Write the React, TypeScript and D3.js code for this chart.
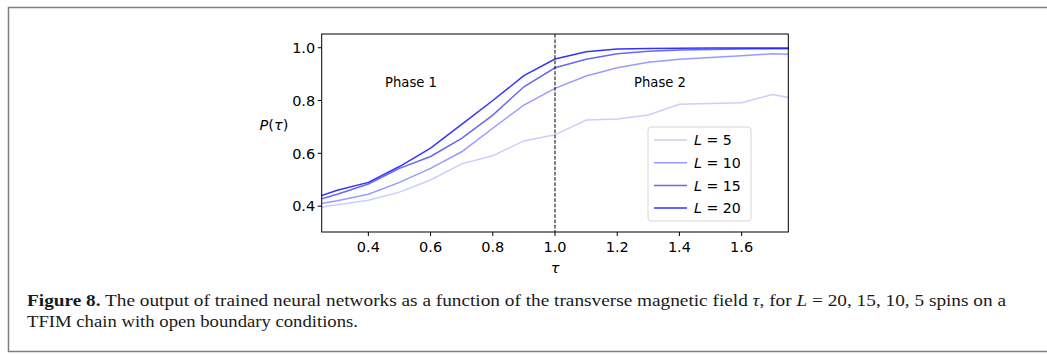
import React from 'react';
import * as d3 from 'd3';

// transverse field values (the first and last points fall outside the x range and get clipped)
const tau = [0.2, 0.3, 0.4, 0.5, 0.6, 0.7, 0.8, 0.9, 1.0, 1.1, 1.2, 1.3, 1.4, 1.5, 1.6, 1.7, 1.8];

const pL5 = [0.387, 0.405, 0.422, 0.453, 0.499, 0.560, 0.591, 0.647, 0.670, 0.726, 0.730, 0.745, 0.786, 0.789, 0.792, 0.823, 0.800];
const pL10 = [0.400, 0.420, 0.445, 0.490, 0.543, 0.606, 0.695, 0.783, 0.846, 0.893, 0.924, 0.945, 0.956, 0.963, 0.970, 0.977, 0.973];
const pL15 = [0.410, 0.445, 0.484, 0.543, 0.588, 0.657, 0.745, 0.852, 0.924, 0.956, 0.977, 0.987, 0.991, 0.993, 0.995, 0.996, 0.997];
const pL20 = [0.420, 0.460, 0.490, 0.550, 0.620, 0.710, 0.800, 0.894, 0.957, 0.985, 0.995, 0.997, 0.998, 0.999, 0.999, 0.999, 0.999];

const sizes = ['5', '10', '15', '20'];
const seriesValues = [pL5, pL10, pL15, pL20];
const alphas = [0.2, 0.4, 0.6, 0.8];

const xTicks = [0.4, 0.6, 0.8, 1.0, 1.2, 1.4, 1.6];
const yTicks = [0.4, 0.6, 0.8, 1.0];

const captionLine1 = 'The output of trained neural networks as a function of the transverse magnetic field ';
const captionLine2 = 'TFIM chain with open boundary conditions.';

const W = 1047;
const H = 354;
const plot = { left: 321.7, right: 788.3, top: 34, bottom: 232 };
const tickFont = '"DejaVu Sans", sans-serif';
const capFont = '"Liberation Serif", serif';

const App: React.FC = () => {
  const x = d3.scaleLinear().domain([0.25, 1.75]).range([plot.left, plot.right]);
  const y = d3.scaleLinear().domain([0.302, 1.052]).range([plot.bottom, plot.top]);

  const line = d3.line<[number, number]>()
    .x(d => x(d[0]))
    .y(d => y(d[1]));

  const legendX = 648;
  const legendY = 127;
  const rowH = 22.7;

  return (
    <svg width={W} height={H} style={{ position: 'absolute', left: 0, top: 0 }}>
      <rect x={0} y={0} width={W} height={H} fill="#fff" />
      {/* figure frame */}
      <path d={`M${W + 5},7.5 H8.5 V351.5 H${W + 5}`} fill="none" stroke="#7f7f7f" strokeWidth={1.5} />

      <defs>
        <clipPath id="plotClip">
          <rect x={plot.left} y={plot.top} width={plot.right - plot.left} height={plot.bottom - plot.top} />
        </clipPath>
      </defs>

      <g clipPath="url(#plotClip)">
        {seriesValues.map((vals, i) => (
          <path
            key={sizes[i]}
            d={line(tau.map((t, j) => [t, vals[j]] as [number, number])) || ''}
            fill="none"
            stroke="blue"
            strokeOpacity={alphas[i]}
            strokeWidth={1.5}
          />
        ))}
      </g>

      {/* critical point */}
      <line x1={x(1.0)} x2={x(1.0)} y1={plot.top} y2={plot.bottom} stroke="#000" strokeWidth={1} strokeDasharray="3.7,1.6" />

      <text x={411} y={87} fontFamily={tickFont} fontSize={13.2} textAnchor="middle" fill="#000">Phase 1</text>
      <text x={660} y={87} fontFamily={tickFont} fontSize={13.2} textAnchor="middle" fill="#000">Phase 2</text>

      {/* axes frame */}
      <rect x={plot.left} y={plot.top} width={plot.right - plot.left} height={plot.bottom - plot.top} fill="none" stroke="#000" strokeWidth={1} />

      {xTicks.map(t => (
        <g key={'x' + t} transform={`translate(${x(t)},${plot.bottom})`}>
          <line y2={4} stroke="#000" strokeWidth={1} />
          <text y={20} textAnchor="middle" fontFamily={tickFont} fontSize={14.5} fill="#000">{t.toFixed(1)}</text>
        </g>
      ))}
      {yTicks.map(t => (
        <g key={'y' + t} transform={`translate(${plot.left},${y(t)})`}>
          <line x2={-4} stroke="#000" strokeWidth={1} />
          <text x={-6.5} dy="0.36em" textAnchor="end" fontFamily={tickFont} fontSize={14.5} fill="#000">{t.toFixed(1)}</text>
        </g>
      ))}

      <text x={555} y={273} textAnchor="middle" fontFamily={tickFont} fontSize={14.5} fontStyle="italic" fill="#000">τ</text>
      <text x={274} y={130} textAnchor="middle" fontFamily={tickFont} fontSize={14.5} fill="#000">
        <tspan fontStyle="italic">P</tspan>(<tspan fontStyle="italic">τ</tspan>)
      </text>

      {/* legend */}
      <rect x={legendX} y={legendY} width={103} height={94} rx={3} fill="#fff" fillOpacity={0.8} stroke="#d6d6d6" strokeWidth={1} />
      {sizes.map((s, i) => (
        <g key={'lg' + s} transform={`translate(${legendX},${legendY + 13 + i * rowH})`}>
          <line x1={6} x2={39} stroke="blue" strokeOpacity={alphas[i]} strokeWidth={1.5} />
          <text x={46} dy="0.36em" fontFamily={tickFont} fontSize={14.2} fill="#000">
            <tspan fontStyle="italic">L</tspan> = {s}
          </text>
        </g>
      ))}

      {/* caption */}
      <text x={27} y={306} fontFamily={capFont} fontSize={16.5} fill="#1a1a1a" textLength={979} lengthAdjust="spacingAndGlyphs">
        <tspan fontWeight="bold">Figure 8.</tspan>
        <tspan>{'  ' + captionLine1}</tspan>
        <tspan fontStyle="italic">τ</tspan>
        <tspan>, for </tspan>
        <tspan fontStyle="italic">L</tspan>
        <tspan> = 20, 15, 10, 5 spins on a</tspan>
      </text>
      <text x={27} y={327} fontFamily={capFont} fontSize={16.5} fill="#1a1a1a" textLength={331} lengthAdjust="spacingAndGlyphs">
        {captionLine2}
      </text>
    </svg>
  );
};

export default App;
